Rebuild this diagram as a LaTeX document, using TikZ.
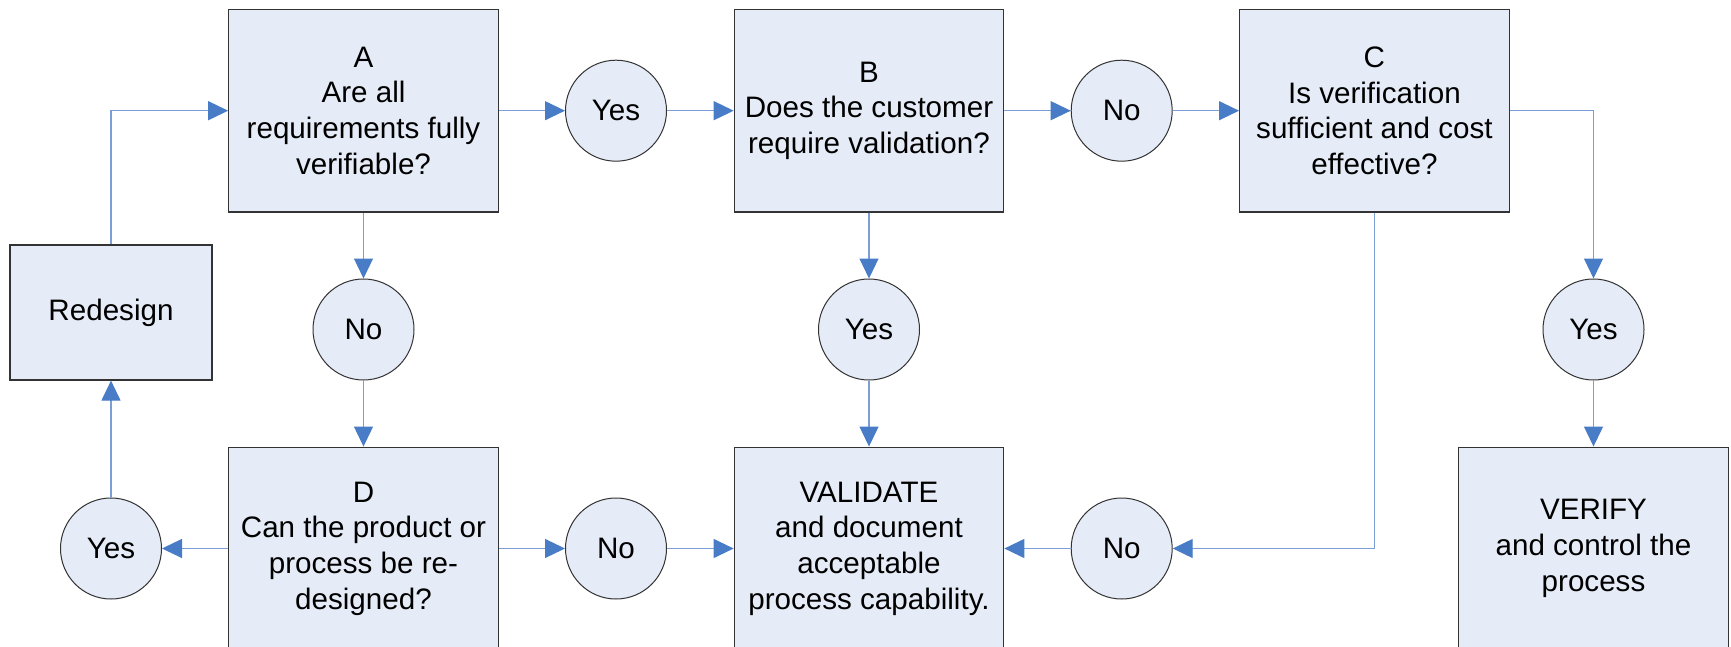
\documentclass[tikz,border=0pt]{standalone}
\usepackage{fontspec}
\setmainfont{Liberation Sans}
\usetikzlibrary{arrows.meta}

\definecolor{boxfill}{RGB}{230,236,247}
\definecolor{linkline}{RGB}{124,158,214}
\definecolor{linktip}{RGB}{72,124,198}

\tikzset{
  qbox/.style={draw=black!80,line width=0.6pt,fill=boxfill,align=center,inner sep=0pt,
    minimum width=134.75pt,minimum height=101.35pt,font=\fontsize{14.8}{17.85}\selectfont},
  answer/.style={circle,draw=black!80,line width=0.5pt,fill=boxfill,inner sep=0pt,
    minimum size=50.5pt,font=\fontsize{14.8}{17.85}\selectfont},
  link/.style={draw=linkline,line width=0.6pt,-{Triangle[length=10pt,width=9.5pt,color=linktip]}}
}

\begin{document}
\begin{tikzpicture}[x=0.5pt,y=-0.5pt]
 	 	\useasboundingbox (0,0) rectangle (1731,647);

 	 	\node[qbox] (boxA) at (363.5,110.7) {A\\Are all\\requirements fully\\verifiable?};
 	 	\node[qbox] (boxB) at (869,110.7) {B\\Does the customer\\require validation?};
 	 	\node[qbox] (boxC) at (1374.4,110.7) {C\\Is verification\\sufficient and cost\\effective?};
 	 	\node[qbox,minimum width=101pt,minimum height=67.5pt] (redesign) at (111,312.5) {Redesign};
 	 	\node[qbox] (boxD) at (363.5,548.5) {D\\Can the product or\\process be re-\\designed?};
 	 	\node[qbox] (validate) at (869,548.5) {VALIDATE\\and document\\acceptable\\process capability.};
 	 	\node[qbox] (verify) at (1593.5,548.5) {VERIFY\\and control the\\process};

 	 	\node[answer] (yesAB) at (616,110.7) {Yes};
 	 	\node[answer] (noBC) at (1121.7,110.7) {No};
 	 	\node[answer] (noAD) at (363.5,329.5) {No};
 	 	\node[answer] (yesBV) at (869,329.5) {Yes};
 	 	\node[answer] (yesCV) at (1593.5,329.5) {Yes};
 	 	\node[answer] (yesDR) at (111,548.5) {Yes};
 	 	\node[answer] (noDV) at (616,548.5) {No};
 	 	\node[answer] (noCV) at (1121.7,548.5) {No};

 	 	\draw[link] (redesign.north) |- (boxA.west);
 	 	\draw[link] (boxA) -- (yesAB);
 	 	\draw[link] (yesAB) -- (boxB);
 	 	\draw[link] (boxB) -- (noBC);
 	 	\draw[link] (noBC) -- (boxC);
 	 	\draw[link] (boxC.east) -| (yesCV.north);
 	 	\draw[link] (yesCV) -- (verify);
 	 	\draw[link] (boxC.south) |- (noCV.east);
 	 	\draw[link] (noCV) -- (validate);
 	 	\draw[link] (boxA) -- (noAD);
 	 	\draw[link] (noAD) -- (boxD);
 	 	\draw[link] (boxB) -- (yesBV);
 	 	\draw[link] (yesBV) -- (validate);
 	 	\draw[link] (boxD) -- (yesDR);
 	 	\draw[link] (yesDR) -- (redesign);
 	 	\draw[link] (boxD) -- (noDV);
 	 	\draw[link] (noDV) -- (validate);
\end{tikzpicture}
\end{document}
